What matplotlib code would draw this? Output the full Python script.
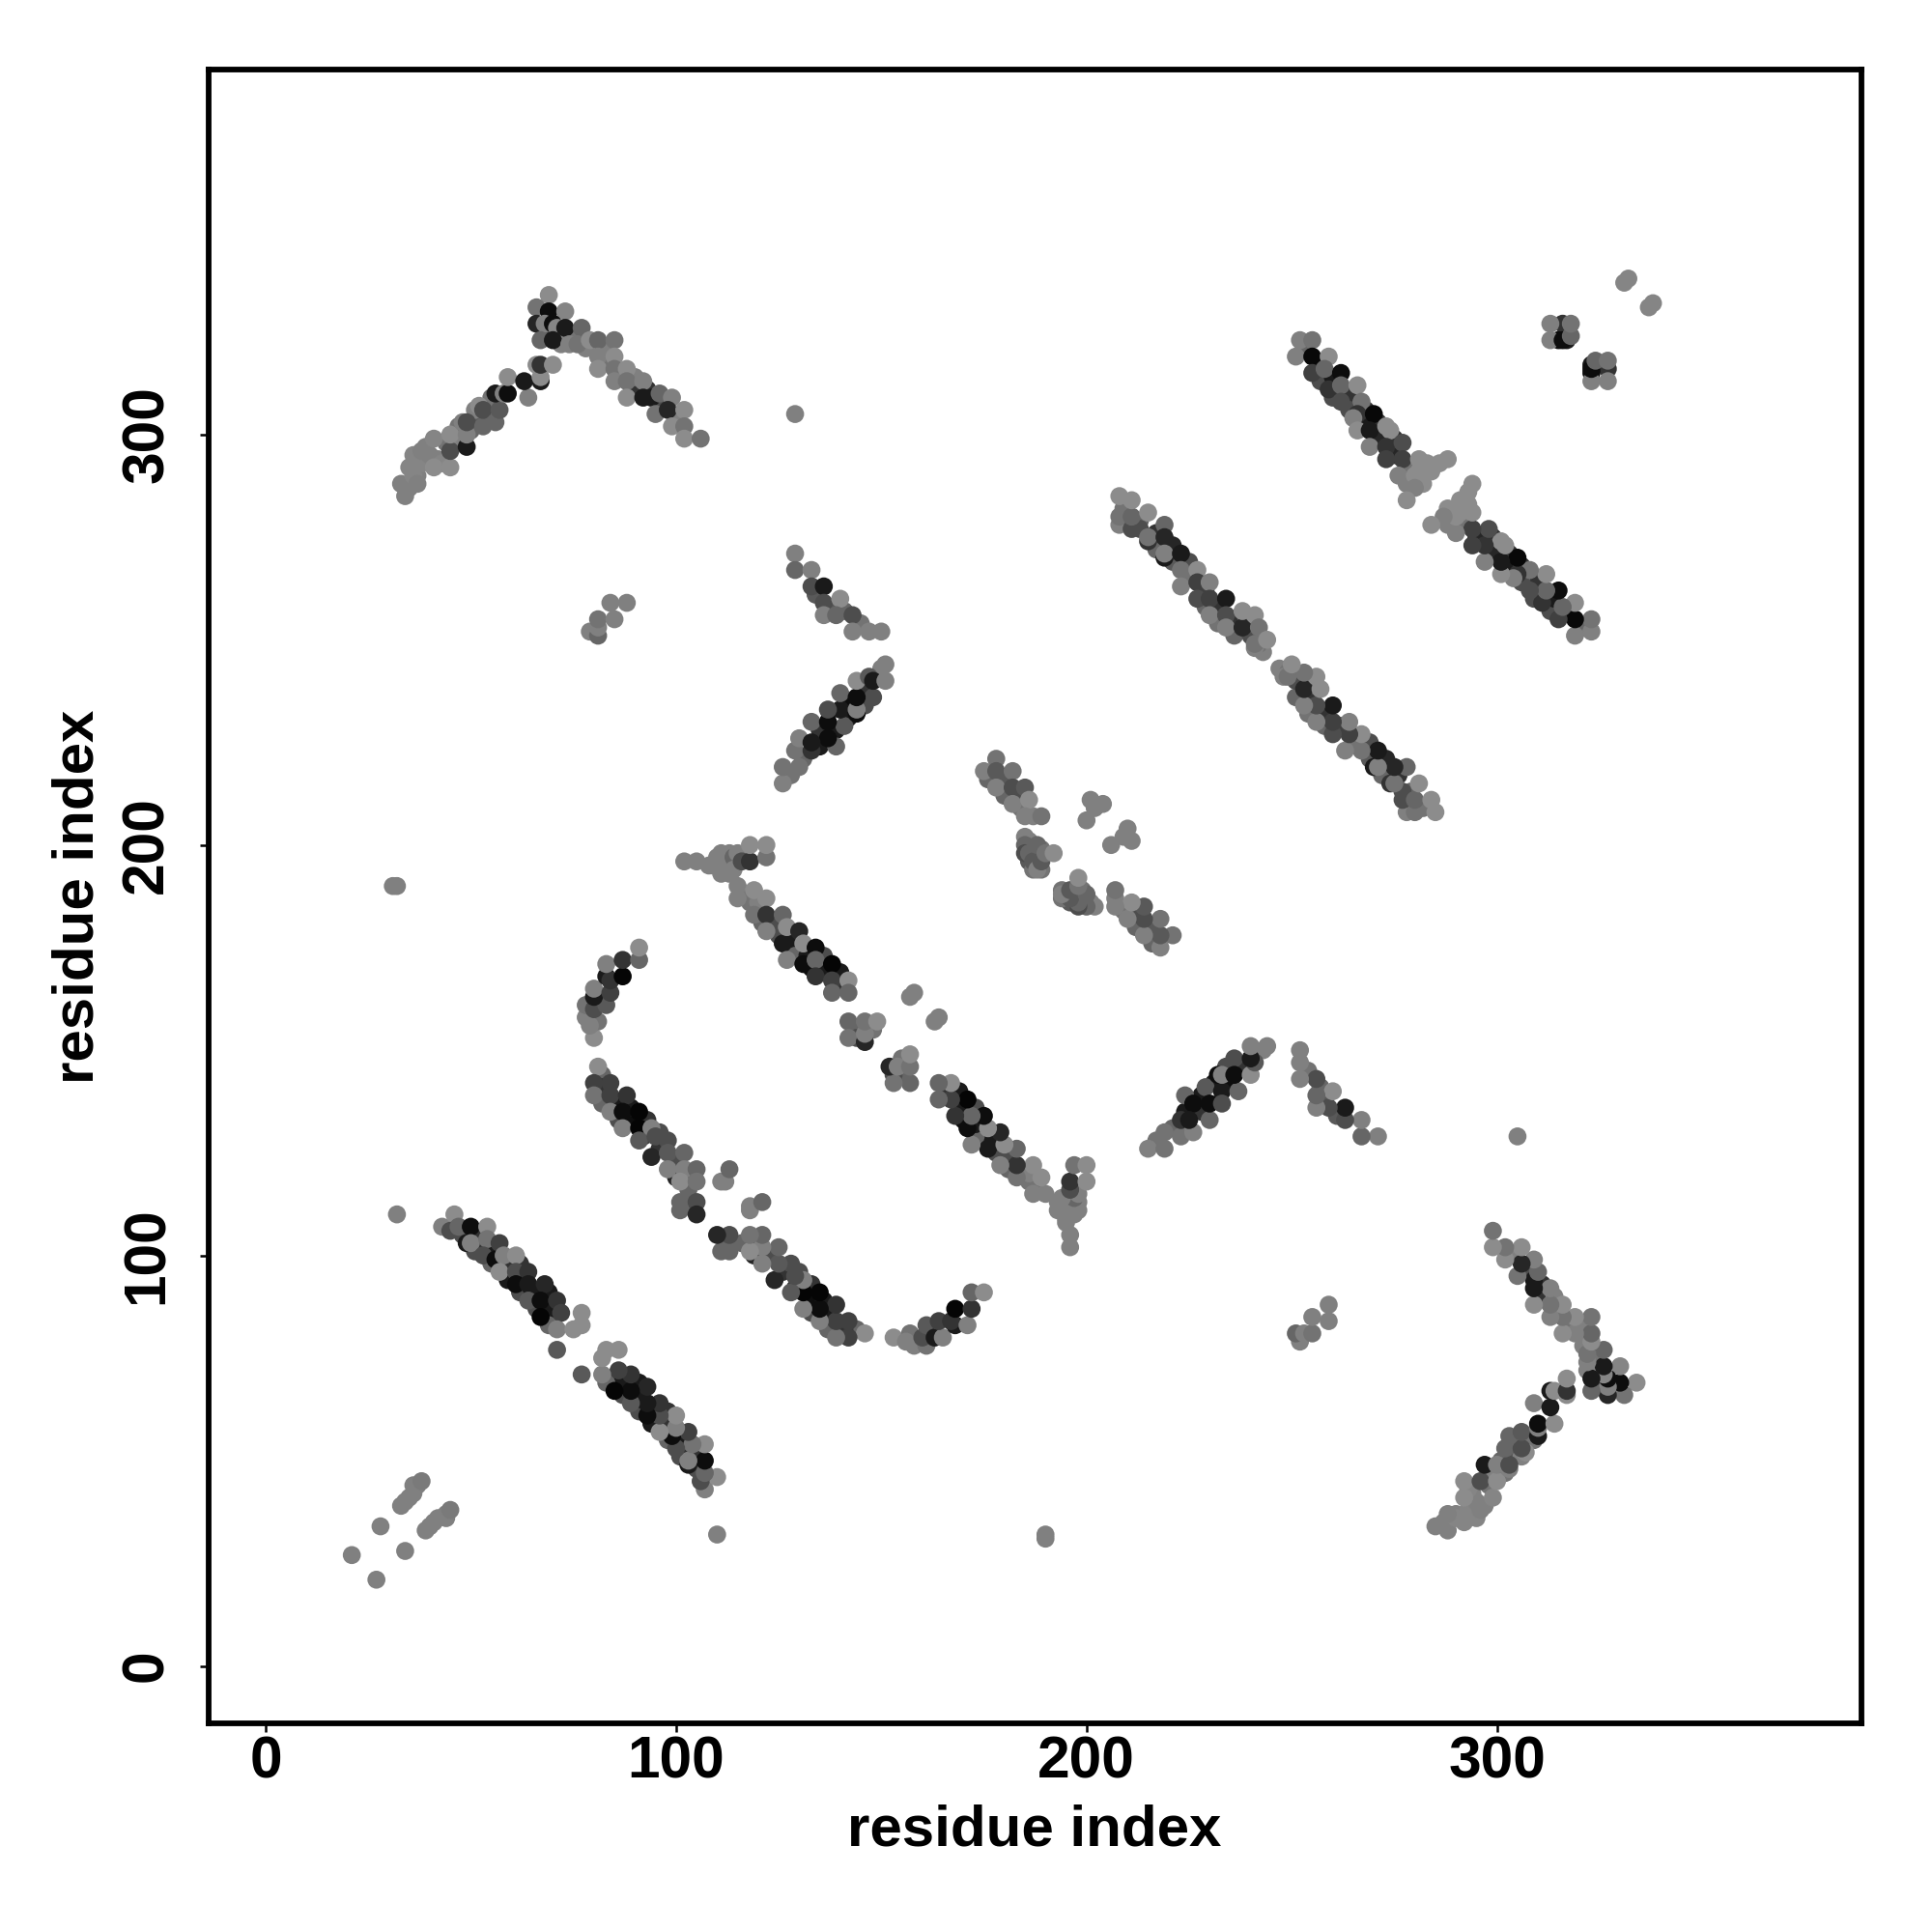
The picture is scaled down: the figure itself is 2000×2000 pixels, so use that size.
import matplotlib
matplotlib.use("Agg")
import matplotlib.pyplot as plt

plt.rcParams['font.family'] = ['Liberation Sans', 'DejaVu Sans']
plt.rcParams['font.weight'] = 'bold'

# contactos leidos del mapa: solo la mitad x < y, la otra mitad es su espejo
# cada grupo: residuo x, residuo y, nivel de gris (0 negro, 1 blanco)

# contactos de fondo que asoman por debajo de cada hoja
r1_x = [34, 35, 35, 36, 37, 38, 39, 40, 42, 43, 44, 46, 47, 47, 50, 51, 51, 54, 55, 55]
r1_y = [285, 287, 292, 295, 290, 293, 297, 295, 294, 293, 298, 299, 299, 302, 301, 304, 306, 305, 305, 309]
r1_c = [.5, .5, .52, .52, .5, .52, .5, .5, .5, .52, .45, .5, .5, .45, .4, .35, .5, .3, .45, .45]

r2_x = [68, 69, 72, 73, 75, 78, 83, 83, 84, 87, 89, 90, 90, 93, 97, 100]
r2_y = [325, 324, 322, 323, 324, 321, 321, 318, 317, 314, 312, 311, 314, 311, 307, 304]
r2_c = [.2, .3, .5, .5, .45, .5, .5, .5, .45, .4, .45, .2, .5, .2, .3, .5]

r3_x = [117, 118, 120, 121, 124, 125, 128, 129, 129, 132, 133, 136, 136, 140, 140, 144, 144, 148]
r3_y = [188, 186, 186, 181, 180, 178, 175, 177, 173, 173, 170, 169, 173, 166, 169, 155, 153, 155]
r3_c = [.45, .45, .5, .4, .3, .3, .2, .1, .4, .1, .05, .1, .3, .2, .1, .4, .3, .45]

r4_x = [82, 82, 82, 86, 86, 89, 89, 92, 93, 96, 96, 100, 100, 103, 103, 104, 103]
r4_y = [144, 141, 137, 137, 133, 133, 136, 129, 133, 126, 130, 123, 119, 120, 116, 112, 112]
r4_c = [.4, .2, .4, .1, .3, .05, .1, .2, .2, .2, .3, .3, .15, .35, .4, .35, .4]

r5_x = [48, 51, 52, 55, 55, 59, 59, 62, 62, 65, 66, 69, 69, 70, 69]
r5_y = [105, 101, 104, 101, 98, 98, 94, 98, 91, 91, 87, 87, 91, 84, 83]
r5_c = [.3, .3, .2, .1, .4, .2, .1, .2, .3, .1, .3, .1, .1, .1, .4]

r6_x = [134, 138, 141, 145, 128, 131, 135, 135, 139, 139, 142, 142, 146, 146, 150]
r6_y = [261, 258, 257, 254, 217, 221, 224, 228, 228, 224, 231, 235, 238, 234, 243]
r6_c = [.35, .35, .4, .45, .45, .4, .1, .2, .1, .4, .1, .05, .2, .3, .5]

r7_x = [176, 180, 180, 184, 184, 187, 187, 188, 186, 187, 186, 189, 189]
r7_y = [216, 216, 212, 212, 209, 207, 199, 197, 196, 194, 199, 194, 199]
r7_c = [.4, .35, .4, .3, .45, .5, .4, .35, .35, .45, .4, .45, .45]

r8_x = [209, 213, 213, 217, 217, 221, 221, 225, 225, 229, 229, 232, 232, 236, 236, 240, 239, 243, 242]
r8_y = [282, 279, 277, 276, 272, 273, 269, 269, 265, 262, 258, 258, 254, 255, 251, 251, 255, 247, 249]
r8_c = [.45, .4, .3, .2, .4, .15, .35, .3, .45, .25, .4, .2, .45, .2, .4, .3, .4, .5, .45]

r9_x = [253, 257, 257, 260, 260, 264, 264, 268, 268, 271, 271, 275, 275, 279, 282, 278, 281, 283, 286, 316, 315, 317]
r9_y = [321, 317, 313, 314, 309, 310, 306, 303, 306, 303, 299, 299, 295, 292, 288, 288, 291, 293, 293, 327, 323, 323]
r9_c = [.4, .15, .3, .1, .3, .2, .3, .1, .2, .2, .15, .2, .15, .45, .55, .5, .55, .55, .55, .2, .05, .1]

# extremo N-terminal, junto a la diagonal
g_x = [21, 28, 33, 34, 35, 36, 36, 37, 38]
g_y = [27, 34, 39, 40, 41, 42, 44, 44, 45]
g_c = [.5, .5, .5, .5, .5, .5, .5, .5, .48]

# brazo izquierdo de la V superior
va_x = [33, 36, 36, 37, 38, 41, 41, 45, 45, 45, 49, 49, 48, 49, 52, 53, 53, 56, 57, 56, 58, 59, 59, 64, 63, 67, 67, 66, 67, 70]
va_y = [288, 290, 293, 288, 296, 299, 292, 292, 296, 300, 297, 300, 303, 303, 307, 302, 306, 303, 306, 310, 310, 310, 314, 309, 313, 313, 314, 317, 317, 317]
va_c = [.5, .52, .52, .5, .5, .52, .55, .55, .3, .55, .1, .5, .5, .3, .55, .4, .3, .4, .35, .1, .5, .05, .55, .5, .1, .1, .55, .55, .2, .55]

# brazo derecho de la V superior
vb_x = [69, 66, 69, 73, 66, 68, 70, 71, 73, 77, 67, 70, 74, 76, 79, 81, 85, 81, 85, 81, 85, 85, 88, 88, 88, 92, 92, 94, 96, 99, 95, 98, 102, 99, 102, 102, 106]
vb_y = [334, 331, 330, 330, 327, 327, 327, 326, 326, 326, 323, 323, 322, 322, 323, 323, 323, 319, 319, 316, 316, 313, 316, 313, 309, 313, 309, 309, 310, 309, 305, 306, 306, 302, 302, 299, 299]
vb_c = [.55, .45, .05, .52, .15, .5, .05, .52, .1, .4, .4, .1, .5, .45, .55, .4, .45, .5, .55, .55, .45, .5, .55, .45, .55, .5, .1, .1, .4, .5, .45, .15, .55, .55, .45, .55, .45]

# bloque pequeno y contactos sueltos
b_x = [79, 81, 81, 81, 85, 84, 88, 31, 32, 32, 129]
b_y = [252, 251, 253, 255, 255, 259, 259, 190, 190, 110, 305]
b_c = [.5, .4, .5, .45, .5, .5, .5, .5, .5, .5, .5]

# hoja 129-150 / 250-270
c1_x = [129, 129, 133, 133, 136, 136, 140, 136, 139, 143, 143, 147, 150]
c1_y = [271, 267, 267, 263, 263, 259, 260, 256, 256, 256, 252, 252, 252]
c1_c = [.5, .4, .5, .3, .1, .3, .55, .5, .4, .3, .5, .5, .5]

# hoja 126-151 / 215-244
c2_x = [126, 130, 126, 129, 133, 130, 137, 133, 133, 141, 137, 140, 137, 144, 144, 140, 148, 144, 144, 147, 148, 151, 151]
c2_y = [215, 219, 219, 223, 223, 226, 226, 225, 230, 229, 230, 233, 233, 232, 233, 237, 236, 236, 240, 241, 240, 240, 244]
c2_c = [.5, .45, .45, .45, .2, .5, .05, .1, .4, .35, .05, .1, .3, .05, .5, .4, .3, .05, .55, .35, .1, .5, .5]

# hoja central, tramo 102-149
d_x = [102, 105, 108, 109, 110, 110, 111, 111, 112, 112, 113, 113, 114, 114, 115, 116, 116, 118, 118, 122, 122, 115, 115, 119, 122, 119, 122, 126, 122, 126, 127, 127, 130, 131, 131, 134, 134, 138, 134, 138, 142, 138, 142, 142, 142, 146, 146, 146, 149, 157, 158]
d_y = [196, 196, 195, 195, 195, 197, 193, 198, 196, 194, 193, 198, 197, 194, 198, 197, 196, 196, 200, 197, 200, 190, 187, 189, 187, 183, 183, 183, 179, 176, 172, 180, 179, 171, 176, 175, 172, 171, 168, 167, 167, 164, 164, 157, 153, 152, 154, 157, 157, 163, 164]
d_c = [.5, .5, .5, .5, .5, .5, .5, .5, .5, .5, .5, .5, .4, .5, .5, .5, .3, .2, .55, .45, .55, .5, .5, .55, .55, .45, .2, .4, .5, .1, .5, .55, .15, .05, .55, .05, .4, .02, .2, .25, .55, .4, .4, .4, .45, .15, .5, .45, .55, .5, .5]

# arco 78-91 / 153-175
e1_x = [80, 81, 79, 78, 78, 80, 83, 80, 80, 84, 83, 84, 83, 87, 87, 91, 91]
e1_y = [153, 157, 156, 158, 161, 160, 161, 163, 165, 164, 168, 167, 171, 168, 172, 172, 175]
e1_c = [.55, .45, .5, .5, .45, .3, .35, .1, .5, .25, .1, .2, .5, .02, .2, .4, .55]

# hoja 80-113 / 110-146
e2_x = [81, 80, 84, 80, 84, 88, 84, 87, 91, 87, 91, 94, 91, 95, 98, 94, 98, 102, 98, 102, 105, 101, 105, 101, 105, 101, 105, 111, 112, 113]
e2_y = [146, 142, 142, 139, 139, 139, 135, 135, 135, 131, 131, 131, 128, 129, 128, 124, 125, 125, 121, 121, 121, 118, 118, 113, 113, 111, 110, 118, 118, 121]
e2_c = [.55, .25, .25, .45, .25, .2, .5, .05, .02, .5, .02, .5, .35, .3, .3, .15, .35, .4, .5, .5, .4, .55, .45, .4, .3, .4, .15, .5, .5, .4]

# hoja 43-77 / 77-110
f_x = [43, 46, 45, 47, 49, 50, 50, 54, 54, 53, 57, 56, 58, 61, 57, 61, 64, 61, 64, 68, 64, 67, 71, 67, 72, 71, 71, 75, 77, 77]
f_y = [107, 110, 106, 107, 103, 107, 103, 107, 104, 100, 103, 99, 100, 100, 96, 96, 96, 93, 93, 93, 89, 89, 89, 85, 86, 82, 77, 82, 83, 86]
f_c = [.5, .55, .3, .4, .1, .05, .5, .55, .45, .3, .25, .05, .5, .55, .55, .3, .2, .05, .1, .15, .35, .05, .2, .02, .25, .5, .35, .55, .55, .55]

# hoja 175-204 / 194-221
h_x = [175, 178, 178, 178, 182, 182, 182, 185, 186, 185, 189, 185, 186, 185, 185, 186, 187, 188, 188, 189, 190, 192, 200, 201, 202, 204]
h_y = [218, 221, 218, 214, 218, 214, 210, 214, 211, 207, 207, 202, 201, 200, 198, 198, 196, 200, 194, 196, 198, 198, 206, 211, 209, 210]
h_c = [.5, .45, .35, .5, .45, .3, .5, .35, .55, .5, .45, .5, .5, .4, .3, .4, .35, .4, .5, .35, .45, .55, .5, .5, .5, .5]

# hoja 208-244 / 248-285
i_x = [208, 208, 208, 211, 211, 211, 215, 215, 215, 219, 219, 219, 219, 223, 223, 223, 227, 227, 230, 227, 230, 230, 234, 234, 234, 238, 238, 241, 242, 241, 241, 244]
i_y = [278, 280, 285, 277, 280, 284, 274, 275, 281, 278, 275, 270, 271, 271, 267, 263, 267, 264, 264, 260, 260, 256, 260, 256, 253, 253, 257, 256, 253, 248, 249, 250]
i_c = [.5, .45, .55, .3, .4, .55, .2, .45, .55, .4, .15, .1, .5, .1, .45, .5, .55, .25, .5, .3, .25, .5, .1, .3, .5, .15, .55, .55, .45, .5, .45, .55]

# hoja 251-288 / 284-323
j_x = [252, 255, 251, 255, 259, 255, 258, 262, 259, 262, 266, 262, 267, 266, 265, 270, 266, 269, 273, 274, 269, 273, 277, 273, 277, 276, 281, 280, 284, 288, 280, 278]
j_y = [323, 323, 319, 319, 319, 315, 316, 315, 311, 312, 312, 308, 308, 305, 304, 305, 301, 301, 302, 301, 297, 297, 298, 294, 294, 290, 294, 290, 291, 294, 287, 284]
j_c = [.5, .45, .5, .03, .55, .25, .4, .05, .2, .4, .55, .3, .45, .2, .5, .03, .55, .1, .55, .55, .5, .2, .3, .25, .25, .5, .55, .55, .55, .55, .5, .55]

# extremo C-terminal
k_x = [313, 313, 316, 318, 318, 331, 332]
k_y = [323, 327, 323, 324, 327, 337, 338]
k_c = [.5, .5, .05, .4, .45, .52, .52]

grupos = [(r1_x, r1_y, r1_c), (r2_x, r2_y, r2_c), (r3_x, r3_y, r3_c), (r4_x, r4_y, r4_c),
          (r5_x, r5_y, r5_c), (r6_x, r6_y, r6_c), (r7_x, r7_y, r7_c), (r8_x, r8_y, r8_c),
          (r9_x, r9_y, r9_c),
          (g_x, g_y, g_c), (va_x, va_y, va_c), (vb_x, vb_y, vb_c), (b_x, b_y, b_c),
          (c1_x, c1_y, c1_c), (c2_x, c2_y, c2_c), (d_x, d_y, d_c), (e1_x, e1_y, e1_c),
          (e2_x, e2_y, e2_c), (f_x, f_y, f_c), (h_x, h_y, h_c), (i_x, i_y, i_c),
          (j_x, j_y, j_c), (k_x, k_y, k_c)]

ticks = [0, 100, 200, 300]

fig = plt.figure(figsize=(10, 10), dpi=200)
ax = fig.add_axes([216.3 / 2000, 1 - 1784 / 2000, (1927 - 216.3) / 2000, (1784 - 71.7) / 2000])

for x, y, c in grupos:
    colores = [str(v) for v in c]
    ax.scatter(x, y, s=45, c=colores, linewidths=0, zorder=3)
    ax.scatter(y, x, s=45, c=colores, linewidths=0, zorder=3)    # mitad espejo

ax.set_xlim(-13.8, 388.8)
ax.set_ylim(-14, 389)
ax.set_xticks(ticks)
ax.set_yticks(ticks)
ax.tick_params(axis='x', length=3.2, width=0.9, pad=1.2, labelsize=21.8)
ax.tick_params(axis='y', length=3.2, width=0.9, pad=9.3, labelsize=21.8)
for t in ax.get_yticklabels():
    t.set_rotation(90)
    t.set_va('center')
for s in ax.spines.values():
    s.set_linewidth(2.1)

fig.text(1071 / 2000, 1 - 1895 / 2000, 'residue index', ha='center', va='center', fontsize=21.6, fontweight='bold')
fig.text(81.5 / 2000, 1 - 928 / 2000, 'residue index', ha='center', va='center', rotation=90, fontsize=21.6, fontweight='bold')

fig.savefig('out.png', dpi=200)
